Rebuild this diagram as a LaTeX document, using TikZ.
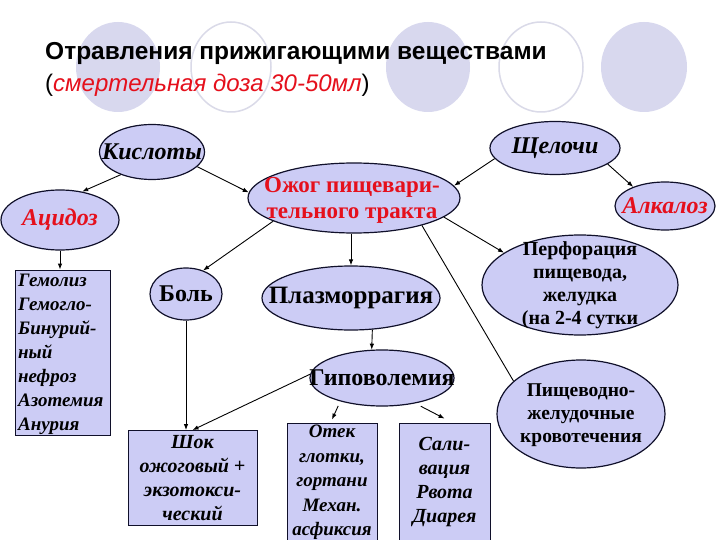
\documentclass[tikz,border=0pt]{standalone}
\usepackage{fontspec}
\setmainfont{Liberation Serif}
\newfontfamily\arialf{Liberation Sans}
\usetikzlibrary{shapes.geometric,arrows.meta,calc}
\definecolor{lav}{HTML}{CCCCF5}
\definecolor{bgl}{HTML}{D8D8EE}
\definecolor{bgo}{HTML}{DADAE8}
\definecolor{redt}{HTML}{E5101C}
\definecolor{edge}{HTML}{10102A}
\begin{document}
\begin{tikzpicture}[x=1pt,y=-1pt,
  ell/.style={ellipse,draw=edge,line width=1.2pt,fill=lav,inner sep=0pt},
  box/.style={rectangle,draw=edge,line width=0.9pt,fill=lav,inner sep=0pt},
  txt/.style={inner sep=0pt,align=center,font=\bfseries\fontsize{#1}{#1}\selectfont},
  itx/.style={inner sep=0pt,align=center,font=\bfseries\itshape\fontsize{#1}{#1}\selectfont},
  arr/.style={-{Latex[length=6pt,width=4.5pt]},line width=0.9pt},
  ln/.style={line width=0.9pt}]
\useasboundingbox (0,0) rectangle (720,540);
\fill[white] (0,0) rectangle (720,540);
% background circles
\fill[bgl] (118,67) ellipse [x radius=42pt, y radius=45pt];
\draw[bgo,line width=1.5pt,fill=white] (231,67) ellipse [x radius=40pt, y radius=45pt];
\fill[bgl] (428,67) ellipse [x radius=42pt, y radius=45pt];
\draw[bgo,line width=1.5pt,fill=white] (541,67) ellipse [x radius=42pt, y radius=45pt];
\fill[bgl] (644,67) ellipse [x radius=43pt, y radius=45pt];
% title
\node[anchor=west,inner sep=0pt,font=\arialf\bfseries\fontsize{24.5}{28}\selectfont] (title) at (45,53) {Отравления прижигающими веществами};
\node[anchor=west,inner sep=0pt,font=\arialf\fontsize{24}{28}\selectfont] (sub) at (45,85) {(\textcolor{redt}{\itshape смертельная доза 30-50мл})};
% ellipses
\node[ell,minimum width=105pt,minimum height=55pt] (kis) at (152,152) {};
\node[itx=24] (kist) at (kis) {Кислоты};
\node[ell,minimum width=130pt,minimum height=53pt] (shch) at (555,148) {};
\node[itx=24] (shcht) at (shch) {Щелочи};
\node[ell,minimum width=212pt,minimum height=70pt] (ozh) at (354,198) {};
\node[txt=23,text=redt,align=center] (ozht) at (352,200) {Ожог пищевари-\\[3pt]тельного тракта};
\node[ell,minimum width=118pt,minimum height=60pt] (acid) at (60,220) {};
\node[itx=24,text=redt] (acidt) at (acid) {Ацидоз};
\node[ell,minimum width=100pt,minimum height=48pt] (alk) at (665,206) {};
\node[itx=24,text=redt] (alkt) at (alk) {Алкалоз};
\node[ell,minimum width=72pt,minimum height=52pt] (bol) at (186,294) {};
\node[txt=24] (bolt) at (bol) {Боль};
\node[ell,minimum width=178pt,minimum height=64pt] (plaz) at (351,298) {};
\node[txt=25] (plazt) at (plaz) {Плазморрагия};
\node[ell,minimum width=196pt,minimum height=100pt] (perf) at (580,285) {};
\node[txt=20,align=center] (perft) at (580,285) {Перфорация\\[3pt]пищевода,\\[3pt]желудка\\[3pt](на 2-4 сутки};
\node[ell,minimum width=144pt,minimum height=56pt] (hypo) at (382,378) {};
\node[txt=24] (hypot) at (382,378) {Гиповолемия};
\node[ell,minimum width=168pt,minimum height=108pt] (krov) at (581,414) {};
\node[txt=19.5,align=center] (krovt) at (581,415) {Пищеводно-\\[3.5pt]желудочные\\[3.5pt]кровотечения};
% boxes
\node[box,minimum width=95pt,minimum height=165pt] (gem) at (62.5,352.5) {};
\node[itx=19,anchor=north west,align=left] (gemt) at (18,274) {Гемолиз\\[5pt]Гемогло-\\[5pt]Бинурий-\\[5pt]ный\\[5pt]нефроз\\[5pt]Азотемия\\[5pt]Анурия};
\node[box,minimum width=129pt,minimum height=95pt] (shok) at (192.5,478) {};
\node[itx=20,align=center] (shokt) at (192.5,478) {Шок\\[4pt]ожоговый +\\[4pt]экзотокси-\\[4pt]ческий};
\node[box,minimum width=90pt,minimum height=130pt] (otek) at (332,488) {};
\node[itx=19,align=center,anchor=north] (otekt) at (332,425) {Отек\\[5.5pt]глотки,\\[5.5pt]гортани\\[5.5pt]Механ.\\[5.5pt]асфиксия};
\node[box,minimum width=91pt,minimum height=130pt] (sal) at (444.5,488) {};
\node[itx=20,align=center] (salt) at (444.5,482) {Сали-\\[4pt]вация\\[4pt]Рвота\\[4pt]Диарея};
% connectors
\draw[arr] (kis.216) -- (acid.52);
\draw[arr] (kis.342) -- (ozh.177);
\draw[arr] (shch.190) -- (ozh.7);
\draw[arr] (shch.343) -- (alk.149);
\draw[arr] (acid.south) -- (acid.south |- gem.north);
\draw[arr] (ozh.196) -- (bol.54);
\draw[arr] (plaz.north |- ozh.south) -- (plaz.north);
\draw[arr] (ozh.348) -- (perf.157);
\draw[ln] (ozh.338) -- (krov.154);
\draw[arr] (plaz.304) -- (hypo.110);
\draw[arr] (bol.south) -- (bol.south |- shok.north);
\draw[arr] (hypo.177) -- (shok.north);
\draw[arr] ($(hypo.211)+(-4,4)$) -- ($(otek.north)+(0,-3)$);
\draw[arr] ($(hypo.328)+(0,4)$) -- ($(sal.north)+(0,-4)$);
\end{tikzpicture}
\end{document}
